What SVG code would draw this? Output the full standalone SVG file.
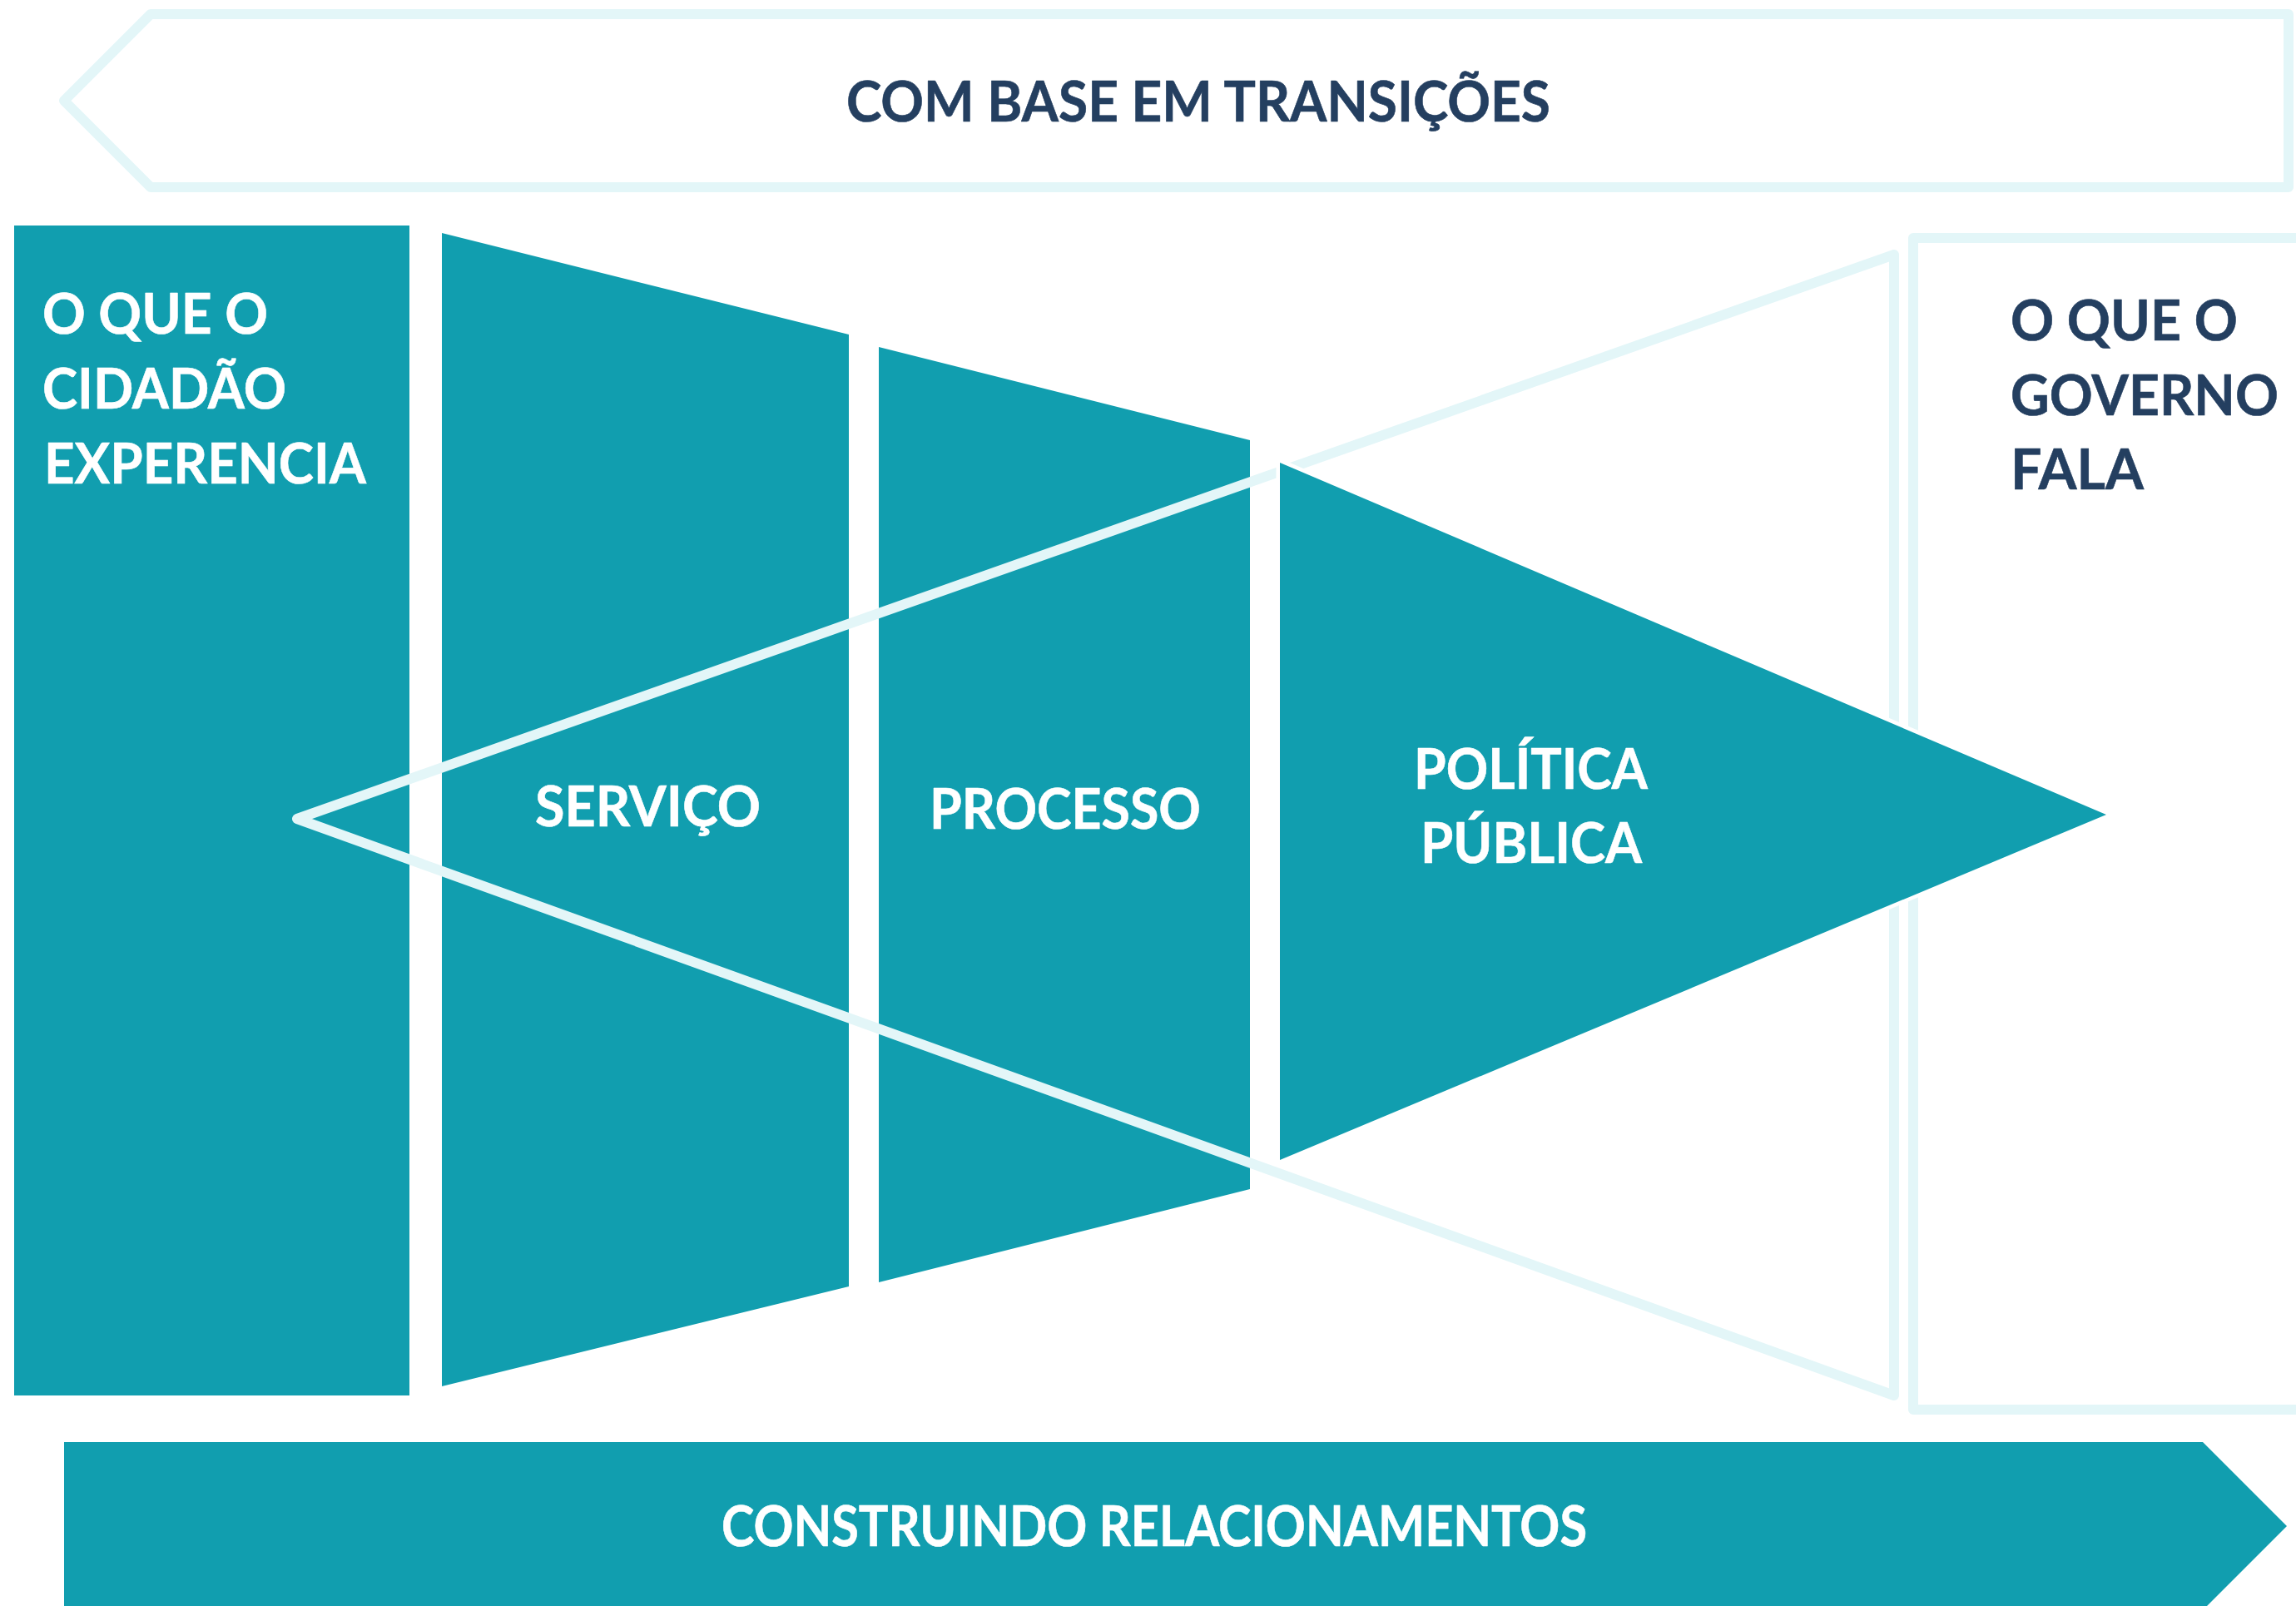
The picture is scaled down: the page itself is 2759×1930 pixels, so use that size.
<svg xmlns="http://www.w3.org/2000/svg" width="2759" height="1930" viewBox="0 0 2759 1930">
  <style>
    .teal { fill: #119EAF; }
    .outline { fill: none; stroke: #E3F6F8; stroke-width: 12; stroke-linejoin: round; }
    .lbl { font-family: Lato, "Open Sans", "Liberation Sans", sans-serif; font-weight: 700; font-size: 67px; stroke-width: 0.6px; stroke-linejoin: round; }
    .w { fill: #FFFFFF; stroke: #FFFFFF; }
    .n { fill: #243F60; stroke: #243F60; }
  </style>
  <rect x="0" y="0" width="2759" height="1930" fill="#FFFFFF"/>

  <g id="top-arrow">
    <polygon class="outline" points="77,121 181,17 2750,17 2750,225 181,225"/>
    <text class="lbl n" x="1017" y="146" textLength="846" lengthAdjust="spacingAndGlyphs">COM BASE EM TRANSIÇÕES</text>
  </g>

  <g id="governo-box">
    <rect class="outline" x="2299" y="286" width="600" height="1408"/>
    <text class="lbl n" x="2416" y="409" textLength="273" lengthAdjust="spacingAndGlyphs">O QUE O</text>
    <text class="lbl n" x="2416" y="499" textLength="322" lengthAdjust="spacingAndGlyphs">GOVERNO</text>
    <text class="lbl n" x="2416" y="588" textLength="160" lengthAdjust="spacingAndGlyphs">FALA</text>
  </g>

  <g id="cidadao-box">
    <rect class="teal" x="17" y="271" width="475" height="1406"/>
    <text class="lbl w" x="51" y="401" textLength="271" lengthAdjust="spacingAndGlyphs">O QUE O</text>
    <text class="lbl w" x="51" y="491" textLength="293" lengthAdjust="spacingAndGlyphs">CIDADÃO</text>
    <text class="lbl w" x="53" y="581" textLength="387" lengthAdjust="spacingAndGlyphs">EXPERENCIA</text>
  </g>

  <g id="servico">
    <polygon class="teal" points="531,280 1020,402 1020,1546 531,1666"/>
    <text class="lbl w" x="643" y="993" textLength="271" lengthAdjust="spacingAndGlyphs">SERVIÇO</text>
  </g>

  <g id="processo">
    <polygon class="teal" points="1056,417 1502,529 1502,1429 1056,1541"/>
    <text class="lbl w" x="1117" y="996" textLength="326" lengthAdjust="spacingAndGlyphs">PROCESSO</text>
  </g>

  <g id="connectors">
    <polygon class="outline" points="357,984 2276,306 2276,1677"/>
  </g>

  <g id="politica-publica">
    <polygon class="teal" points="1538,556 2531,979 1538,1394" stroke="#FFFFFF" stroke-width="9" stroke-linejoin="miter" paint-order="stroke"/>
    <text class="lbl w" x="1699" y="948" textLength="281" lengthAdjust="spacingAndGlyphs">POLÍTICA</text>
    <text class="lbl w" x="1707" y="1037" textLength="266" lengthAdjust="spacingAndGlyphs">PÚBLICA</text>
  </g>

  <g id="bottom-arrow">
    <polygon class="teal" points="77,1733 2647,1733 2748,1834 2647,1935 77,1935"/>
    <text class="lbl w" x="867" y="1858" textLength="1040" lengthAdjust="spacingAndGlyphs">CONSTRUINDO RELACIONAMENTOS</text>
  </g>
</svg>
